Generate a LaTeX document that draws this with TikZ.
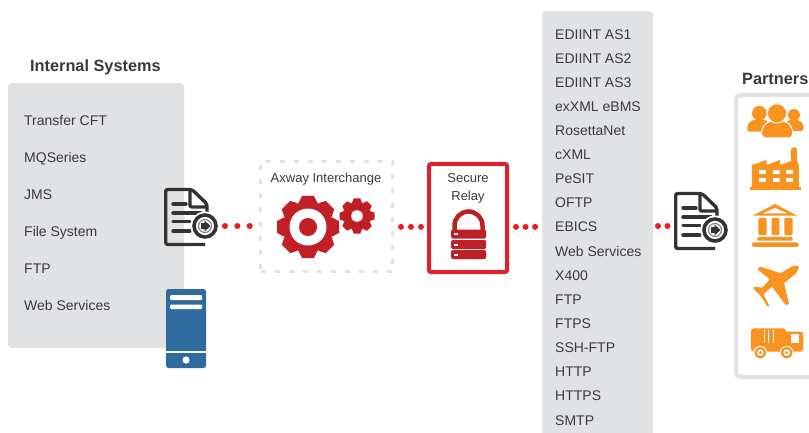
\documentclass[tikz,border=0pt]{standalone}
\usepackage{fontspec}
\setmainfont{Liberation Sans}
\definecolor{panel}{HTML}{E1E2E4}
\definecolor{ink}{HTML}{3A3A3C}
\definecolor{docink}{HTML}{333333}
\definecolor{dotred}{HTML}{ED1C24}
\definecolor{gearred}{HTML}{C11F26}
\definecolor{relayred}{HTML}{E31E2D}
\definecolor{srvblue}{HTML}{2F6A9E}
\definecolor{partnerorange}{HTML}{F8931F}
\newcommand{\mygear}[6]{% x,y,outer,root,hole ring,centre
  \begin{scope}[shift={(#1,#2)}]
    \fill[gearred] (0,0) circle[radius=#4];
    \foreach \a in {0,45,...,315}
      \fill[gearred,rotate=\a] (#4-1.5,-#3*0.31) -- (#3,-#3*0.19) -- (#3,#3*0.19) -- (#4-1.5,#3*0.31) -- cycle;
    \fill[white] (0,0) circle[radius=#5];
    \ifdim #6pt>0pt \fill[gearred] (0,0) circle[radius=#6]; \fi
  \end{scope}}
\tikzset{
  x=1pt,y=-1pt,
  panelbox/.style={fill=panel,rounded corners=4pt,draw=none,inner sep=0pt,outer sep=0pt,anchor=north west},
  item/.style={font=\fontsize{14}{16}\selectfont,text=ink,anchor=west,inner sep=0pt,text height=10pt,text depth=3pt},
  title/.style={font=\fontsize{16.3}{18}\selectfont\bfseries,text=ink,anchor=west,inner sep=0pt,text height=11pt,text depth=3pt},
  small/.style={font=\fontsize{13}{15}\selectfont,text=ink,inner sep=0pt,text height=10pt,text depth=3pt},
  ghost/.style={inner sep=0pt,outer sep=0pt,anchor=north west},
  dots/.style={dotred,line width=6pt,line cap=round},
  docicon/.pic={
    \draw[docink,line width=3.4pt,line join=round,rounded corners=2pt]
      (43,27) -- (43,16) -- (28,1.5) -- (1.7,1.5) -- (1.7,56.5) -- (41,56.5);
    \draw[docink,line width=3.4pt,line join=round,rounded corners=2pt] (26,1.5) -- (26,19) -- (43,19);
    \draw[docink,line width=3.4pt,line cap=round]
      (9,16) -- (22,16) (9,25) -- (37,25) (9,33.5) -- (26,33.5) (9,43) -- (26,43);
    \fill[white] (41,38) circle[radius=14.5];
    \draw[docink,line width=3.6pt] (41,38) circle[radius=11];
    \draw[docink!60,line width=1.2pt] (41,38) circle[radius=6.5];
    \fill[docink] (37,35) -- (40.5,35) -- (40.5,32.5) -- (46.5,38) -- (40.5,43.5) -- (40.5,41) -- (37,41) -- cycle;
  }
}
\begin{document}
\begin{tikzpicture}
\clip (0,0) rectangle (809,433);
\useasboundingbox (0,0) rectangle (809,433);
\fill[white] (0,0) rectangle (809,433);

% panels
\node[panelbox,minimum width=176pt,minimum height=265pt] (internal) at (8,83) {};
\node[panelbox,minimum width=111pt,minimum height=440pt] (proto) at (542,11) {};
\node[draw=panel,line width=4pt,rounded corners=4pt,inner sep=0pt,outer sep=0pt,anchor=north west,minimum width=100pt,minimum height=282pt] (frame) at (736,95) {};

% titles
\node[title] (tInt) at (30,68) {Internal Systems};
\node[title] (tPar) at (742,81) {Partners};

% lists
\foreach \t/\y/\n in {Transfer CFT/120/1,MQSeries/157/2,JMS/194/3,File System/231/4,FTP/268/5,Web Services/305/6}
  \node[item] (L\n) at (24,\y+2) {\t};
\foreach \t/\y/\n in {EDIINT AS1/34/1,EDIINT AS2/58/2,EDIINT AS3/82/3,exXML eBMS/106/4,RosettaNet/130/5,cXML/154/6,PeSIT/178/7,OFTP/202/8,EBICS/226/9,Web Services/251/10,X400/275/11,FTP/299/12,FTPS/323/13,SSH-FTP/347/14,HTTP/371/15,HTTPS/395/16,SMTP/420/17}
  \node[item] (R\n) at (555,\y+2) {\t};

% interchange and relay
\node[draw=panel,line width=3.5pt,dash pattern=on 5pt off 9pt,inner sep=0pt,outer sep=0pt,anchor=north west,minimum width=132pt,minimum height=110pt] (ix) at (260.5,161.5) {};
\node[small] (ixl) at (326,179) {Axway Interchange};
\node[draw=relayred,line width=4pt,rounded corners=2pt,inner sep=0pt,outer sep=0pt,anchor=north west,minimum width=78pt,minimum height=108pt] (relay) at (429,164) {};
\node[small] (rl1) at (468,179) {Secure};
\node[small] (rl2) at (468,197) {Relay};

% gears
\mygear{308}{227}{31}{25.5}{18.5}{9}
\mygear{357}{216}{17.5}{13.5}{5.8}{0}

% lock
\draw[gearred,line width=4.5pt] (454.5,230) -- (454.5,225.5) arc[start angle=180,end angle=360,radius=14] -- (482.5,230);
\foreach \yy in {229.5,240,250}{
  \fill[gearred,rounded corners=1.5pt] (451,\yy) rectangle (486,\yy+9);
  \fill[white] (453.5,\yy+3.5) rectangle (458,\yy+5.5);
}

% documents
\node[ghost,minimum width=54pt,minimum height=58pt] (doc1) at (164,188) {};
\node[ghost,minimum width=54pt,minimum height=58pt] (doc2) at (674,192) {};
\pic at (doc1.north west) {docicon};
\pic at (doc2.north west) {docicon};

% server
\node[fill=srvblue,rounded corners=2.5pt,inner sep=0pt,outer sep=0pt,anchor=north west,minimum width=40pt,minimum height=79pt] (srv) at (166,289) {};
\fill[white,rounded corners=1pt] (170,295) rectangle (202,300);
\fill[white,rounded corners=1pt] (170,304.5) rectangle (202,309);
\fill[white] (166,351) rectangle (206,353);
\fill[white] (186,360) circle[radius=3.6];

% connectors
\coordinate (rowA) at (0,226);
\coordinate (rowB) at (0,226.5);
\draw[dots,dash pattern=on 0.01pt off 12.35pt,shorten <=7pt,shorten >=10pt] (doc1.east |- rowA) -- (ix.west |- rowA);
\draw[dots,dash pattern=on 0.01pt off 9.99pt,shorten <=8.5pt,shorten >=8pt] (ix.east |- rowB) -- (relay.west |- rowB);
\draw[dots,dash pattern=on 0.01pt off 9.55pt,shorten <=9pt,shorten >=6.8pt] (relay.east |- rowB) -- (proto.west |- rowB);
\draw[dots,dash pattern=on 0.01pt off 9.45pt,shorten <=5pt,shorten >=6.4pt] (proto.east |- rowA) -- (doc2.west |- rowA);

% partner icons (coordinates at 3x scale from an origin at 650,60)
\begin{scope}[shift={(650,60)},x=0.3333pt,y=-0.3333pt,partnerorange]
  % people
  \fill[partnerorange,rounded corners=2.5pt] (292,215) -- (292,195) -- (306,180) -- (350,180) -- (365,195) -- (365,215) -- cycle;
  \fill[partnerorange,rounded corners=2.5pt] (400,213) -- (400,195) -- (415,180) -- (448,180) -- (461,195) -- (461,213) -- cycle;
  \fill[partnerorange] (328,160) circle[radius=22];
  \fill[partnerorange] (432,165) circle[radius=18];
  \draw[white,line width=1pt,fill=partnerorange,rounded corners=4pt] (335,234) -- (335,205) -- (352,184) -- (411,184) -- (428,205) -- (428,234) -- cycle;
  \draw[white,line width=1pt,fill=partnerorange] (381,160) circle[radius=29];
  % factory
  \fill[partnerorange] (306,382) -- (306,315) -- (350,300) -- (350,315) -- (390,300) -- (390,315) -- (423,303) -- (441,303) -- (447,315) -- (447,382) -- cycle;
  \fill[partnerorange,rounded corners=2.5pt] (423,262) rectangle (441,330);
  \fill[partnerorange] (300,381) rectangle (454,389);
  \foreach \wx in {327,369,407} \foreach \wy in {330,353}
    \fill[white] (\wx,\wy) rectangle (\wx+22,\wy+13);
  % bank
  \fill[partnerorange] (375,432) -- (442,467) -- (308,467) -- cycle;
  \fill[white] (375,444) -- (412,460) -- (338,460) -- cycle;
  \fill[partnerorange,rounded corners=1pt] (325,474) rectangle (350,525);
  \fill[partnerorange,rounded corners=1pt] (365,474) rectangle (388,525);
  \fill[partnerorange,rounded corners=1pt] (403,474) rectangle (428,525);
  \fill[partnerorange,rounded corners=1pt] (322,531) rectangle (428,542);
  \fill[partnerorange,rounded corners=2.2pt] (306,547) rectangle (446,561);
  % plane
  \fill[partnerorange,rounded corners=0.6pt] (440,616) -- (447,622) -- (438,640) -- (402,670) -- (417,731) -- (408,736) -- (366,680) -- (340,703) -- (358,737) -- (353,740) -- (332,708) -- (310,685) -- (313,680) -- (337,683) -- (360,658) -- (322,628) -- (331,620) -- (392,640) -- (425,620) -- cycle;
  % truck
  \fill[partnerorange,rounded corners=3pt] (303,875) -- (303,805) -- (408,805) -- (408,875) -- cycle;
  \fill[partnerorange,rounded corners=3pt] (400,875) -- (400,815) -- (460,815) -- (460,875) -- cycle;
  \fill[white] (424,823) rectangle (448,850);
  \foreach \sx in {342,355,368} \fill[white] (\sx,810) rectangle (\sx+3.5,850);
  \foreach \wx in {331,410}{
    \draw[white,line width=1pt,fill=partnerorange] (\wx,878) circle[radius=19];
    \fill[white] (\wx,878) circle[radius=10];
    \fill[partnerorange] (\wx,878) circle[radius=5];
  }
\end{scope}
\end{tikzpicture}
\end{document}
